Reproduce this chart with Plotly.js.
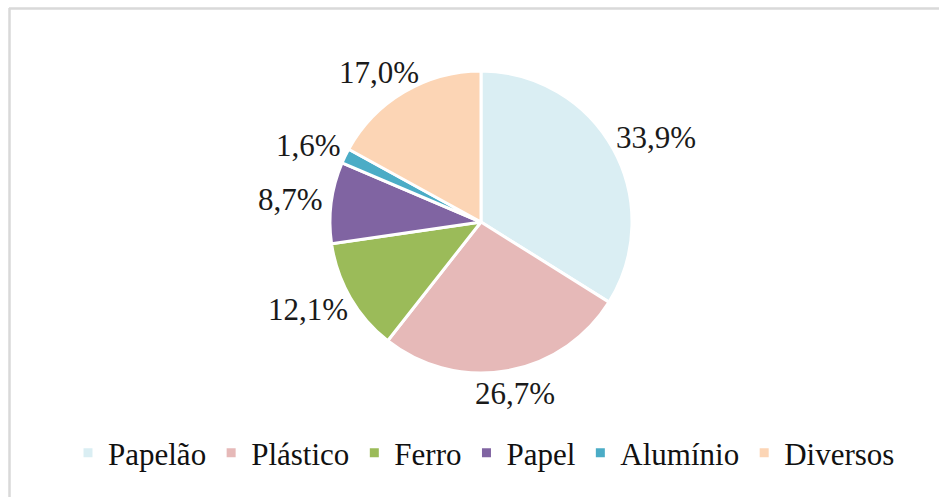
<!DOCTYPE html>
<html>
<head>
<meta charset="utf-8">
<script src="https://cdn.plot.ly/plotly-3.0.1.min.js"></script>
<style>
html, body { margin: 0; padding: 0; background: #fff; }
#chart { width: 939px; height: 497px; }
</style>
</head>
<body>
<div id="chart"></div>
<script>
const categories = ["Papelão", "Plástico", "Ferro", "Papel", "Alumínio", "Diversos"];
const values = [33.9, 26.7, 12.1, 8.7, 1.6, 17.0];
const colors = ["#DAEEF3", "#E6B9B8", "#9BBB59", "#8064A2", "#4BACC6", "#FCD5B5"];

const W = 939, H = 497;
const FONT = '"Liberation Serif", "Times New Roman", Times, serif';
const LABEL_SIZE = 31;

// pie geometry (pixels)
const CX = 481, CY = 222, R = 151;

const trace = {
  type: "pie",
  labels: categories,
  values: values,
  sort: false,
  direction: "clockwise",
  rotation: 0,
  marker: { colors: colors, line: { color: "#ffffff", width: 3 } },
  textinfo: "none",
  hoverinfo: "none",
  domain: { x: [(CX - R) / W, (CX + R) / W], y: [1 - (CY + R) / H, 1 - (CY - R) / H] },
  automargin: false
};

// data labels placed outside each slice, from the slice mid-angles
const ctx = document.createElement("canvas").getContext("2d");
ctx.font = LABEL_SIZE + "px " + FONT;
const total = values.reduce((a, b) => a + b, 0);
let cum = 0;
const annotations = values.map((v) => {
  const mid = (cum + v / 2) / total * 2 * Math.PI;
  cum += v;
  const txt = v.toFixed(1).replace(".", ",") + "%";
  const w = ctx.measureText(txt).width;
  const h = LABEL_SIZE * 0.9;
  const s = Math.sin(mid), c = Math.cos(mid);
  const gap = 9;
  const px = CX + s * (R + gap) + s * w / 2;
  const py = CY - c * (R + gap) - c * h / 2;
  return {
    text: txt, showarrow: false,
    xref: "paper", yref: "paper",
    x: px / W, y: 1 - py / H,
    xanchor: "center", yanchor: "middle",
    font: { family: FONT, size: LABEL_SIZE, color: "#1a1a1a" }
  };
});

const layout = {
  width: W, height: H,
  margin: { l: 0, r: 0, t: 0, b: 0 },
  paper_bgcolor: "#ffffff",
  showlegend: true,
  legend: {
    orientation: "h",
    x: 484 / W, xanchor: "center",
    y: 1 - 453 / H, yanchor: "middle",
    font: { family: FONT, size: 31, color: "#111111" },
    itemwidth: 30,
    traceorder: "normal"
  },
  annotations: annotations,
  shapes: [
    { type: "line", xref: "paper", yref: "paper", x0: 9 / W, x1: 1.01, y0: 1 - 8.5 / H, y1: 1 - 8.5 / H, line: { color: "#d9d9d9", width: 2.5 } },
    { type: "line", xref: "paper", yref: "paper", x0: 9.5 / W, x1: 9.5 / W, y0: 1 - 8 / H, y1: -0.01, line: { color: "#d9d9d9", width: 2.5 } }
  ]
};

Plotly.newPlot("chart", [trace], layout, { displayModeBar: false, staticPlot: true });
</script>
</body>
</html>
